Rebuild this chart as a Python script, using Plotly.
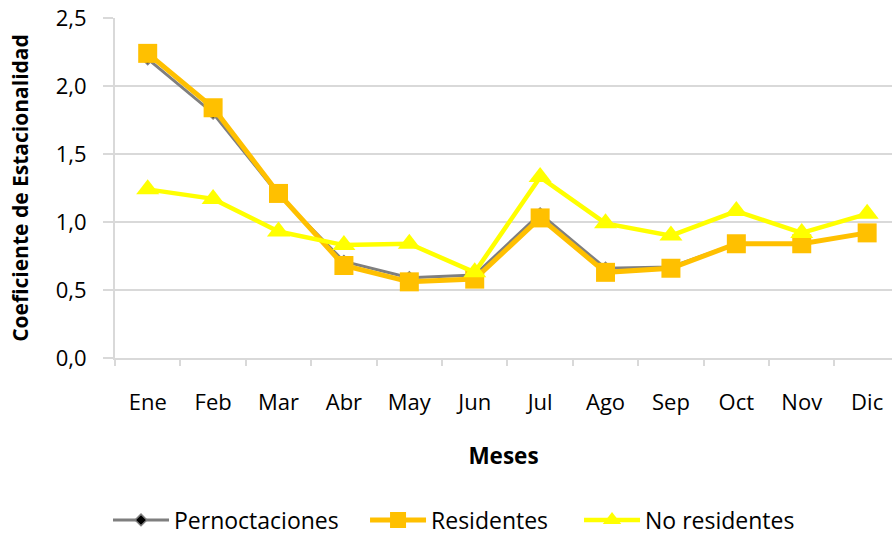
import plotly.graph_objects as go

# meses y coeficientes de estacionalidad
meses = ['Ene', 'Feb', 'Mar', 'Abr', 'May', 'Jun', 'Jul', 'Ago', 'Sep', 'Oct', 'Nov', 'Dic']
pernoctaciones = [2.20, 1.80, 1.20, 0.71, 0.59, 0.61, 1.06, 0.66, 0.67, 0.84, 0.84, 0.92]
residentes = [2.24, 1.84, 1.21, 0.68, 0.56, 0.58, 1.03, 0.63, 0.66, 0.84, 0.84, 0.92]
no_residentes = [1.24, 1.17, 0.93, 0.83, 0.84, 0.63, 1.33, 0.99, 0.90, 1.08, 0.92, 1.06]

FONT = 'Open Sans'

fig = go.Figure()

# pernoctaciones totales
fig.add_trace(go.Scatter(
    x=meses, y=pernoctaciones, name='Pernoctaciones', legend='legend',
    mode='lines+markers',
    line=dict(color='#7f7f7f', width=3),
    marker=dict(symbol='diamond', size=9, color='black',
                line=dict(color='#7f7f7f', width=1.5)),
))

# residentes
fig.add_trace(go.Scatter(
    x=meses, y=residentes, name='Residentes', legend='legend2',
    mode='lines+markers',
    line=dict(color='#FFC000', width=5),
    marker=dict(symbol='square', size=19, color='#FFC000'),
))

# no residentes
fig.add_trace(go.Scatter(
    x=meses, y=no_residentes, name='No residentes', legend='legend3',
    mode='lines+markers',
    line=dict(color='#FFFF00', width=4.5),
    marker=dict(symbol='triangle-up', size=20, color='#FFFF00'),
))

# una leyenda por serie para separar las entradas como en el original
leg = dict(orientation='h', xanchor='left', y=-0.4765, yanchor='middle',
           font=dict(size=23), itemwidth=56, bgcolor='rgba(0,0,0,0)')

fig.update_layout(
    width=892, height=536,
    margin=dict(l=115, r=0, t=18, b=178, autoexpand=False),
    paper_bgcolor='white', plot_bgcolor='white',
    separators=',.',
    font=dict(family=FONT, size=22, color='black'),
    showlegend=True,
    legend=dict(leg, x=-0.0090),
    legend2=dict(leg, x=0.3218),
    legend3=dict(leg, x=0.5972),
    xaxis=dict(
        range=[-0.5, 11.38],
        showline=True, linecolor='#d9d9d9', linewidth=2,
        showgrid=False,
        ticks='outside', tickson='boundaries', ticklen=6, tickcolor='#d9d9d9', tickwidth=2,
        ticklabelstandoff=24, ticklabeloverflow='allow',
        title=dict(text='<b>Meses</b>', standoff=33, font=dict(size=22.5)),
    ),
    yaxis=dict(
        range=[0, 2.5], dtick=0.5, tickformat='.1f',
        showline=True, linecolor='#d9d9d9', linewidth=2,
        showgrid=True, gridcolor='#d9d9d9', gridwidth=2,
        zeroline=False,
        ticks='outside', ticklen=10, tickcolor='#d9d9d9', tickwidth=2,
        ticklabelstandoff=12, ticklabeloverflow='allow',
        title=dict(text='<b>Coeficiente de Estacionalidad</b>', standoff=21, font=dict(size=21)),
    ),
)

# sin margen en el body, la figura ocupa toda la ventana; sin barra de herramientas
fig.write_html('out.html', config={'displayModeBar': False},
               post_script="document.body.style.margin='0';")
